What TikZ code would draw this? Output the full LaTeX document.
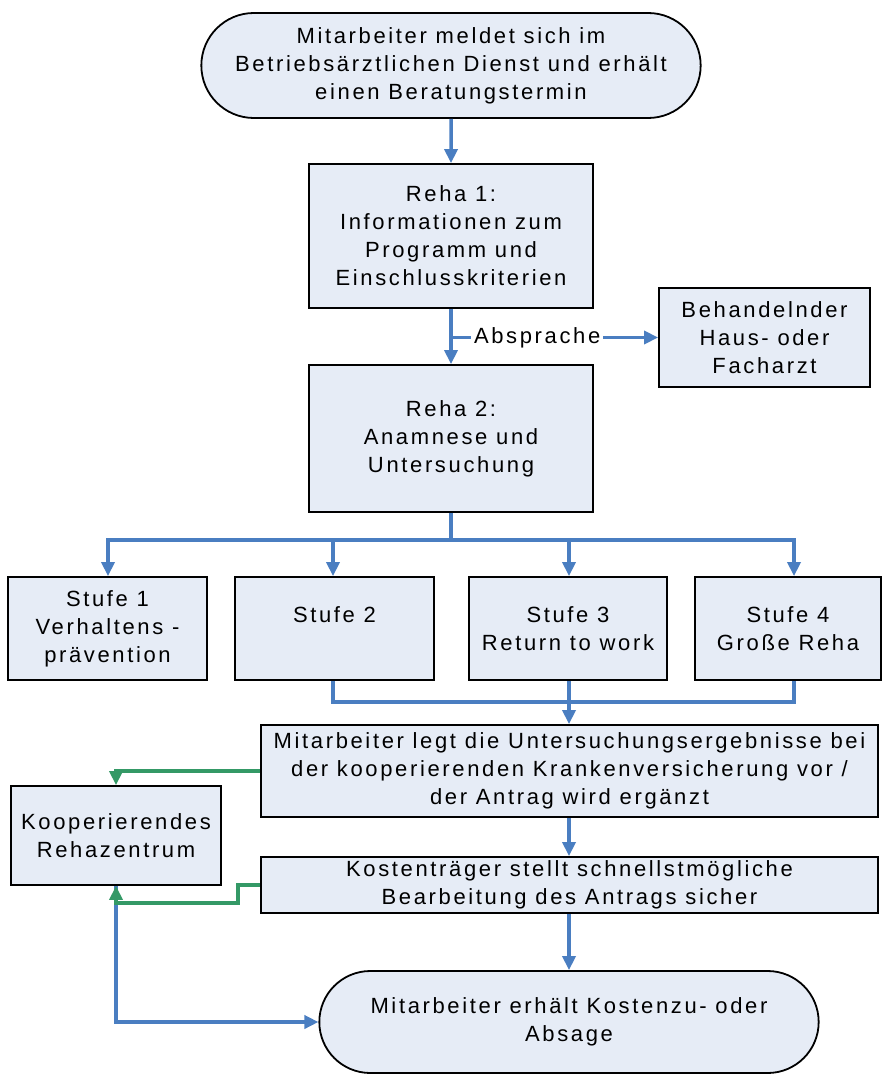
\documentclass[tikz,border=0pt]{standalone}
\usepackage{fontspec}
\setmainfont{Liberation Sans}[LetterSpace=12]
\usetikzlibrary{arrows.meta,positioning,shapes.misc}
\definecolor{boxfill}{RGB}{230,236,246}
\definecolor{linkblue}{RGB}{74,126,193}
\definecolor{linkgreen}{RGB}{52,153,102}
\tikzset{
  stepbox/.style={draw,line width=1.8pt,fill=boxfill,align=center,inner sep=2pt},
  terminal/.style={rounded rectangle,draw,line width=1.8pt,fill=boxfill,align=center},
  link/.style={draw=linkblue,line width=3.5pt},
  greenlink/.style={draw=linkgreen,line width=3.5pt}
}

\begin{document}
\begin{tikzpicture}[x=1pt,y=-1pt,font=\fontsize{22}{28}\selectfont,
    >={Triangle[length=14pt,width=13pt]}]
  \useasboundingbox (0,0) rectangle (883,1075);
  \node[terminal,minimum width=506pt,minimum height=105pt] (start) at (451,65.5)
    {Mitarbeiter meldet sich im\\Betriebsärztlichen Dienst und erhält\\einen Beratungstermin};
  \node[stepbox,minimum width=284pt,minimum height=144pt] (reha1) at (451,236)
    {Reha 1:\\Informationen zum\\Programm und\\Einschlusskriterien};
  \node[stepbox,minimum width=211pt,minimum height=99pt] (arzt) at (764.5,337.5)
    {Behandelnder\\Haus- oder\\Facharzt};
  \node[stepbox,minimum width=284pt,minimum height=147pt] (reha2) at (451,438.5)
    {Reha 2:\\Anamnese und\\Untersuchung};
  \node[stepbox,minimum width=199pt,minimum height=103pt] (stufe1) at (107.5,628.5)
    {Stufe 1\\Verhaltens -\\prävention};
  \node[stepbox,minimum width=199pt,minimum height=103pt] (stufe2) at (334.5,628.5)
    {Stufe 2\\\mbox{}};
  \node[stepbox,minimum width=198pt,minimum height=103pt] (stufe3) at (568,628.5)
    {Stufe 3\\Return to work};
  \node[stepbox,minimum width=186pt,minimum height=103pt] (stufe4) at (788,628.5)
    {Stufe 4\\Große Reha};
  \node[stepbox,minimum width=617pt,minimum height=92pt] (legt) at (569.5,771)
    {Mitarbeiter legt die Untersuchungsergebnisse bei\\der kooperierenden Krankenversicherung vor /\\der Antrag wird ergänzt};
  \node[stepbox,minimum width=617pt,minimum height=56pt] (kosten) at (569.5,885)
    {Kostenträger stellt schnellstmögliche\\Bearbeitung des Antrags sicher};
  \node[stepbox,minimum width=210pt,minimum height=99pt] (zentrum) at (116,835.5)
    {Kooperierendes\\Rehazentrum};
  \node[terminal,minimum width=506pt,minimum height=102pt] (ende) at (569,1022)
    {Mitarbeiter erhält Kostenzu- oder\\Absage};
  \coordinate (split) at (451,540);
  \coordinate (merge) at (569,702);
  % Hauptablauf
  \draw[link,->] (start) -- (reha1);
  \draw[link,->] (reha1) -- (reha2);
  \draw[link,->] (reha1.south |- arzt.west) -- node[pos=0.416,fill=white,inner xsep=3pt,inner ysep=1pt] (absprache) {Absprache} (arzt.west);
  \draw[link] (reha2.south) -- (split);
  \draw[link,->] (split) -| ([xshift=0.5pt]stufe1.north);
  \draw[link,->] (split) -| ([xshift=-1.5pt]stufe2.north);
  \draw[link,->] (split) -| ([xshift=1pt]stufe3.north);
  \draw[link,->] (split) -| ([xshift=6pt]stufe4.north);
  \draw[link] ([xshift=-1.5pt]stufe2.south) |- (merge);
  \draw[link] ([xshift=6pt]stufe4.south) |- (merge);
  \draw[link] ([xshift=1pt]stufe3.south) -- (merge);
  \draw[link,->] (merge) -- (merge |- legt.north);
  \draw[link,->] (legt.south -| merge) -- (kosten.north -| merge);
  \draw[link,->] (kosten.south -| merge) -- (ende.north -| merge);
  % Rehazentrum
  \draw[link,->] (zentrum.south) |- (ende.west);
  \draw[greenlink,->] (legt.west) -| (zentrum.north);
  \draw[greenlink,->] (kosten.west) -- ++(-22,0) -- ++(0,18) -| (zentrum.south);
\end{tikzpicture}
\end{document}
